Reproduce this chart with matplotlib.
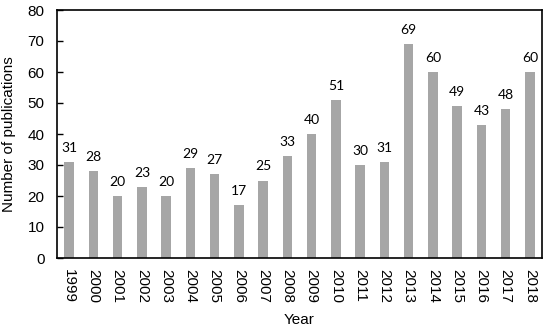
import matplotlib.pyplot as plt

years = [str(y) for y in range(1999, 2019)]
counts = [31, 28, 20, 23, 20, 29, 27, 17, 25, 33, 40, 51, 30, 31, 69, 60, 49, 43, 48, 60]

plt.rcParams["font.family"] = ["Liberation Sans", "DejaVu Sans"]

fig = plt.figure(figsize=(5.5, 3.31), dpi=100)
ax = fig.add_axes([57/550, 1-258/331, 485/550, 248/331])

x = range(len(years))
ax.bar(x, counts, width=0.4, color="#a6a6a6")
for i, c in zip(x, counts):
    ax.text(i, c + 2.6, str(c), ha="center", va="bottom", fontsize=10, family=["Lato", "DejaVu Sans"])

ax.set_xlim(-0.5, len(years) - 0.5)
ax.set_ylim(0, 80)
ax.set_yticks(range(0, 81, 10))
ax.set_xticks(list(x))
ax.set_xticklabels(years, rotation=270, fontsize=11)
ax.tick_params(axis="y", direction="in", length=4, labelsize=11, width=1, pad=9)
ax.tick_params(axis="x", length=0, pad=8)
for s in ax.spines.values():
    s.set_linewidth(1.2)
    s.set_color("black")

ax.set_ylabel("Number of publications", fontsize=11, labelpad=8)
ax.set_xlabel("Year", fontsize=11, labelpad=7)

fig.savefig("out.png", dpi=100)
